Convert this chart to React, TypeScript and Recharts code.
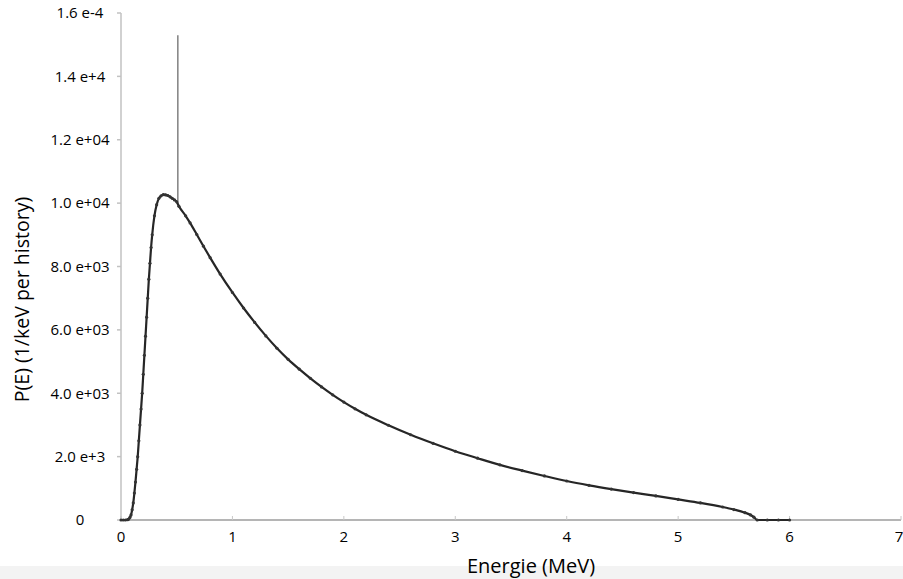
import React from "react";
import { LineChart, Line, XAxis, YAxis, CartesianGrid } from "recharts";

const energyMeV = [
  0.0, 0.02, 0.04, 0.06, 0.07, 0.08, 0.09, 0.1, 0.11, 0.12, 0.13, 0.14, 0.15, 0.16, 0.17, 0.18,
  0.19, 0.2, 0.21, 0.22, 0.23, 0.24, 0.25, 0.26, 0.27, 0.28, 0.3, 0.32, 0.34, 0.36, 0.38, 0.4,
  0.42, 0.44, 0.46, 0.48, 0.5, 0.52, 0.58, 0.62, 0.68, 0.74, 0.8, 0.89, 1.0, 1.1, 1.2, 1.3,
  1.4, 1.5, 1.6, 1.7, 1.8, 1.9, 2.0, 2.1, 2.2, 2.4, 2.6, 2.8, 3.0, 3.2, 3.4, 3.6,
  3.8, 4.0, 4.2, 4.4, 4.6, 4.8, 5.0, 5.2, 5.4, 5.5, 5.6, 5.65, 5.68, 5.71, 5.8, 5.9, 6.0,
];
const probability = [
  0, 0, 0, 10, 30, 80, 160, 320, 540, 850, 1200, 1600, 2000, 2500, 3000, 3500,
  4000, 4600, 5200, 5800, 6400, 7000, 7600, 8100, 8600, 9000, 9600, 9950, 10150, 10230, 10270, 10260,
  10240, 10200, 10150, 10100, 10040, 9900, 9600, 9375, 9010, 8640, 8280, 7760, 7180, 6690, 6235, 5810,
  5420, 5070, 4760, 4470, 4200, 3950, 3720, 3510, 3320, 2990, 2690, 2420, 2170, 1950, 1740, 1560,
  1390, 1230, 1095, 975, 865, 760, 650, 540, 410, 330, 230, 160, 90, 0, 0, 0, 0,
];

const spikeEnergy = [0.51, 0.51];
const spikeValue = [10000, 15300];

const xTicks = [0, 1, 2, 3, 4, 5, 6, 7];
const yTicks = [0, 2000, 4000, 6000, 8000, 10000, 12000, 14000, 16000];
const yTickLabels = ["0", "2.0 e+3", "4.0 e+03", "6.0 e+03", "8.0 e+03", "1.0 e+04", "1.2 e+04", "1.4 e+4", "1.6 e-4"];

const spectrum = energyMeV.map((x, i) => ({ x, y: probability[i] }));
const spike = spikeEnergy.map((x, i) => ({ x, y: spikeValue[i] }));

const FONT = "'Open Sans', sans-serif";

const YTick = (props: any) => {
  const { y, payload } = props;
  const idx = yTicks.indexOf(payload.value);
  return (
    <text x={80} y={y} dy="0.35em" textAnchor="middle" fontFamily={FONT} fontSize={15} fill="#000">
      {idx >= 0 ? yTickLabels[idx] : ""}
    </text>
  );
};

const XTick = (props: any) => {
  const { x, y, payload } = props;
  return (
    <text x={x} y={y} dy="0.35em" textAnchor="middle" fontFamily={FONT} fontSize={15} fill="#000">
      {payload.value}
    </text>
  );
};

const YTitle = (props: any) => {
  const vb = props.viewBox || {};
  const cy = (vb.y || 0) + (vb.height || 0) / 2 + 33;
  return (
    <text x={21} y={cy} transform={`rotate(-90 21 ${cy})`} textAnchor="middle" dominantBaseline="central" fontFamily={FONT} fontSize={19.5} fill="#000">
      P(E) (1/keV per history)
    </text>
  );
};

const XTitle = (props: any) => {
  const vb = props.viewBox || {};
  const cx = (vb.x || 0) + (vb.width || 0) / 2 + 20;
  return (
    <text x={cx} y={565} textAnchor="middle" dominantBaseline="central" fontFamily={FONT} fontSize={20} fill="#000">
      Energie (MeV)
    </text>
  );
};

export default function App() {
  return (
    <div style={{ position: "absolute", left: 0, top: 0, width: 903, height: 579, background: "#fff" }}>
      <div style={{ position: "absolute", left: 0, top: 566, width: 903, height: 13, background: "#f3f3f3" }} />
      <div style={{ position: "absolute", left: 0, top: 0 }}>
        <LineChart width={903} height={579} margin={{ top: 13, right: 2, bottom: 0, left: 0 }}>
          <CartesianGrid
            xAxisId="main"
            yAxisId="main"
            vertical={false}
            horizontalCoordinatesGenerator={(p: any) => [p.offset.top + p.offset.height]}
            stroke="#b5b5b5"
            strokeWidth={2}
            strokeDasharray=""
          />
          <XAxis
            xAxisId="main"
            dataKey="x"
            type="number"
            domain={[0, 7]}
            ticks={xTicks}
            height={59}
            axisLine={false}
            tickSize={-4}
            tickMargin={21}
            tickLine={{ stroke: "#c8c8c8", strokeWidth: 1 }}
            tick={<XTick />}
            label={<XTitle />}
          />
          <XAxis
            xAxisId="top"
            orientation="top"
            type="number"
            domain={[0, 7]}
            ticks={xTicks}
            height={0}
            stroke="#cfcfcf"
            tickSize={-4}
            tickLine={{ stroke: "#cfcfcf" }}
            tick={false}
          />
          <YAxis
            yAxisId="main"
            type="number"
            domain={[0, 16000]}
            ticks={yTicks}
            width={121}
            stroke="#c2c2c2"
            strokeWidth={1.5}
            tickSize={4}
            tickLine={{ stroke: "#c2c2c2" }}
            tick={<YTick />}
            label={<YTitle />}
          />
          <YAxis
            yAxisId="right"
            orientation="right"
            type="number"
            domain={[0, 16000]}
            ticks={yTicks}
            width={0}
            stroke="#cfcfcf"
            tickSize={-4}
            tickLine={{ stroke: "#cfcfcf" }}
            tick={false}
          />
          <Line
            xAxisId="main"
            yAxisId="main"
            data={spike}
            dataKey="y"
            type="linear"
            stroke="#808080"
            strokeWidth={1.5}
            dot={false}
            isAnimationActive={false}
          />
          <Line
            xAxisId="main"
            yAxisId="main"
            data={spectrum}
            dataKey="y"
            type="monotone"
            stroke="#262626"
            strokeWidth={2.2}
            dot={{ r: 1.6, fill: "#333", stroke: "none" }}
            isAnimationActive={false}
          />
        </LineChart>
      </div>
    </div>
  );
}
